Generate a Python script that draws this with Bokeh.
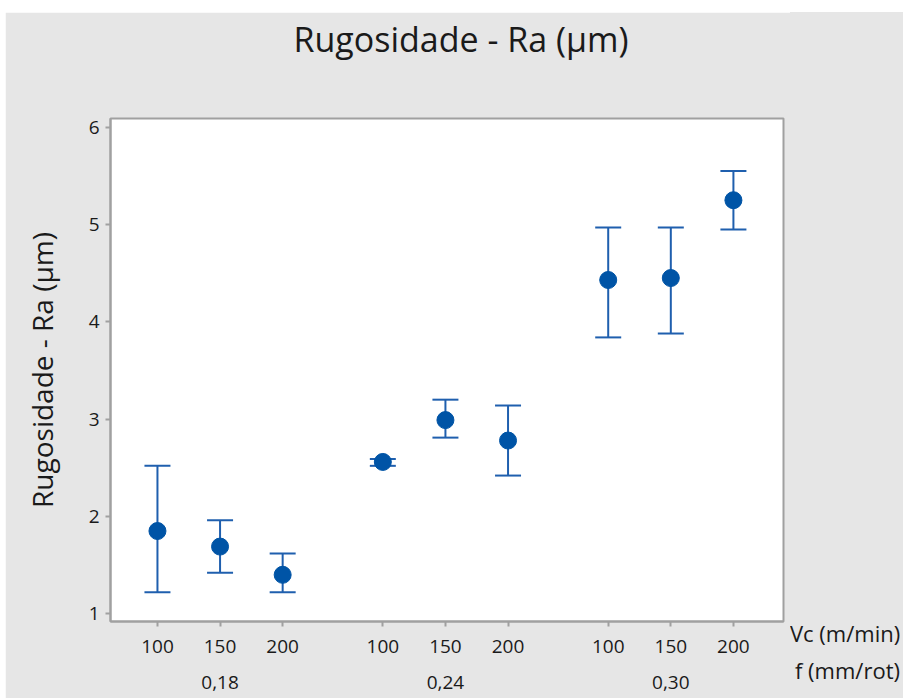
from bokeh.plotting import figure
from bokeh.models import (ColumnDataSource, Whisker, TeeHead, FixedTicker, Range1d,
                          Spacer, LinearAxis, Div, Title)
from bokeh.layouts import column, row
from bokeh.embed import file_html
from bokeh.resources import INLINE

# Data
vc_labels = ["100", "150", "200", "100", "150", "200", "100", "150", "200"]
f_groups = ["0,18", "0,24", "0,30"]
factor_names = ["Vc (m/min)", "f (mm/rot)"]
ra_mean = [1.85, 1.69, 1.40, 2.56, 2.99, 2.78, 4.43, 4.45, 5.25]
ra_upper = [2.52, 1.96, 1.62, 2.59, 3.20, 3.14, 4.97, 4.97, 5.55]
ra_lower = [1.22, 1.42, 1.22, 2.52, 2.81, 2.42, 3.84, 3.88, 4.95]

# category positions (groups separated by a gap)
xpos = []
for g in range(3):
    for k in range(3):
        xpos.append(g * 3.6 + k)
group_centers = [xpos[1], xpos[4], xpos[7]]

FONT = "Open Sans"
BLUE = "#0054a6"
LINE_BLUE = "#1f5fae"
BG = "#e6e6e6"
TXT = "#1a1a1a"
TICK_FS = "19px"

src = ColumnDataSource(dict(x=xpos, y=ra_mean, up=ra_upper, lo=ra_lower))

p = figure(width=785, height=686, output_backend="svg", toolbar_location=None,
           x_range=Range1d(-0.75, 10.0), y_range=Range1d(0.92, 6.09),
           min_border_left=105, min_border_right=7, min_border_top=106, min_border_bottom=77)
p.background_fill_color = "white"
p.border_fill_color = BG
p.outline_line_color = "#a0a0a0"
p.outline_line_width = 2
p.grid.visible = False

# real title (outer), spacer title (inner, next to the frame)
p.title.text = "Rugosidade - Ra (µm)"
p.title.align = "left"
p.title.offset = 183
p.title.text_font = FONT
p.title.text_font_style = "normal"
p.title.text_font_size = "34px"
p.title.text_color = TXT
p.title.standoff = 0
p.add_layout(Title(text=" ", text_font_size="1px", standoff=54), "above")

w = Whisker(source=src, base="x", upper="up", lower="lo", dimension="height",
            line_color=LINE_BLUE, line_width=2,
            upper_head=TeeHead(size=26, line_color=LINE_BLUE, line_width=2),
            lower_head=TeeHead(size=26, line_color=LINE_BLUE, line_width=2))
p.add_layout(w)
p.scatter("x", "y", source=src, size=17, color=BLUE, marker="circle")

# y axis
p.yaxis.ticker = FixedTicker(ticks=[1, 2, 3, 4, 5, 6])
p.yaxis.axis_label = "Rugosidade - Ra (µm)"
p.yaxis.axis_label_text_font = FONT
p.yaxis.axis_label_text_font_style = "normal"
p.yaxis.axis_label_text_font_size = "28px"
p.yaxis.axis_label_text_color = TXT
p.yaxis.axis_label_standoff = 25

# x axis (Vc)
p.xaxis.ticker = FixedTicker(ticks=xpos)
p.xaxis.major_label_overrides = {x: l for x, l in zip(xpos, vc_labels)}

for ax in (p.xaxis, p.yaxis):
    ax.axis_line_color = "#a0a0a0"
    ax.axis_line_width = 2
    ax.major_tick_line_color = "#a0a0a0"
    ax.major_tick_line_width = 2
    ax.major_tick_in = 0
    ax.major_tick_out = 5
    ax.minor_tick_line_color = None
    ax.major_label_text_font = FONT
    ax.major_label_text_font_size = TICK_FS
    ax.major_label_text_color = TXT
    ax.major_label_standoff = 6
p.xaxis.major_label_standoff = 13

# second x axis (f groups)
fax = LinearAxis(ticker=FixedTicker(ticks=group_centers),
                 major_label_overrides={x: l for x, l in zip(group_centers, f_groups)},
                 axis_line_color=None, major_tick_line_color=None, minor_tick_line_color=None,
                 major_tick_in=0, major_tick_out=0,
                 major_label_text_font=FONT, major_label_text_font_size=TICK_FS,
                 major_label_text_color=TXT, major_label_standoff=20)
p.add_layout(fax, "below")

# factor names to the right of the axes
side = Div(
    text=(f'<div style="font-family:\'{FONT}\';font-size:22px;color:{TXT};'
          f'line-height:26px;white-space:nowrap;padding-top:608px;">'
          f'<div>{factor_names[0]}</div>'
          f'<div style="margin-top:11px;padding-left:5px;">{factor_names[1]}</div></div>'),
    width=113, height=686, margin=0,
    styles={"background-color": BG, "overflow": "hidden"})

layout = column(Spacer(width=903, height=12),
                row(Spacer(width=5, height=686), p, side))

open("out.html", "w").write(file_html(layout, INLINE))
